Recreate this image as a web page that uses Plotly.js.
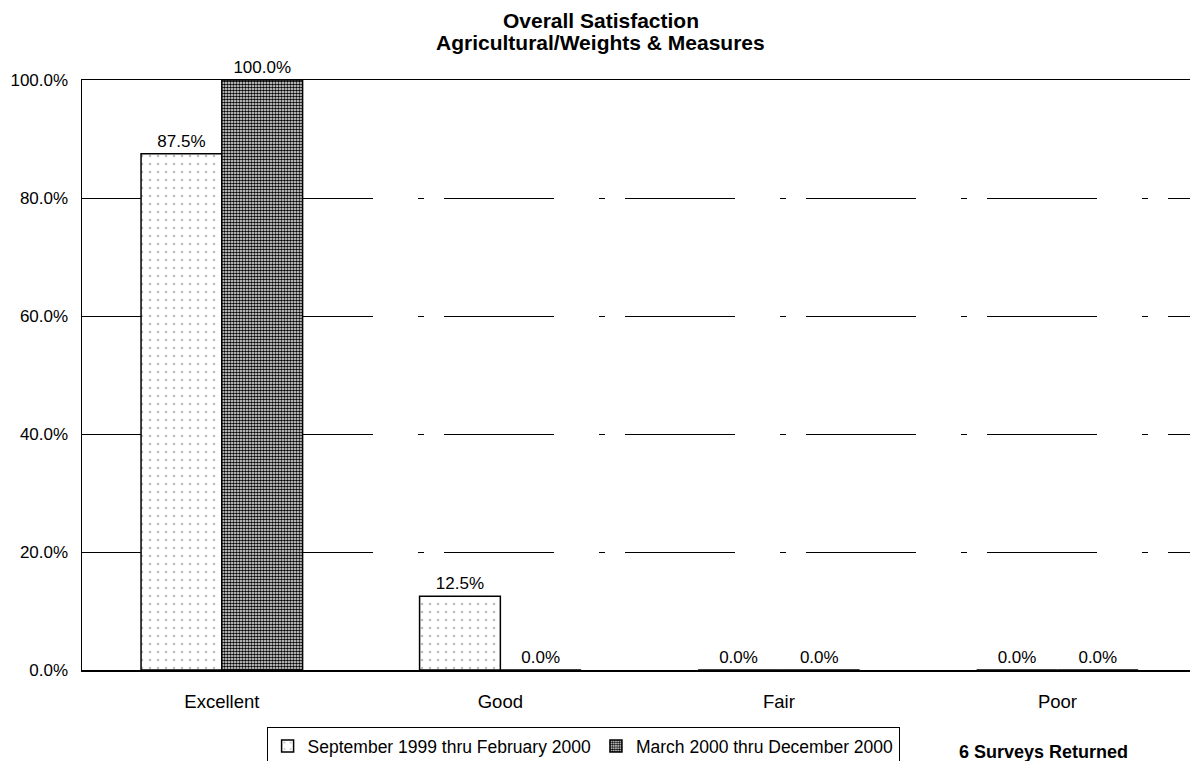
<!DOCTYPE html>
<html>
<head>
<meta charset="utf-8">
<script src="https://cdn.plot.ly/plotly-3.0.1.min.js"></script>
<style>
  html, body { margin: 0; padding: 0; background: #fff; }
  #chart { width: 1192px; height: 761px; }
</style>
</head>
<body>
<div id="chart"></div>
<script>
// Satisfaction ratings by survey period
const categories = ["Excellent", "Good", "Fair", "Poor"];
const seriesNames = ["September 1999 thru February 2000", "March 2000 thru December 2000"];
const periodA = [87.5, 12.5, 0, 0];
const periodB = [100, 0, 0, 0];
const yTickVals = [0, 20, 40, 60, 80, 100];
const yTickText = ["0.0%", "20.0%", "40.0%", "60.0%", "80.0%", "100.0%"];

const font = "Liberation Sans, Arial, sans-serif";
const pct = v => v.toFixed(1) + "%";

const traces = [
  {
    type: "bar",
    name: seriesNames[0],
    x: categories,
    y: periodA,
    text: periodA.map(pct),
    textposition: "outside",
    cliponaxis: false,
    textfont: { family: font, size: 17, color: "#000" },
    marker: {
      color: "#fff",
      line: { color: "#000", width: 1.5 },
      pattern: { shape: ".", fgcolor: "#bdbdbd", bgcolor: "#fff", size: 8, solidity: 0.08 }
    },
    hoverinfo: "skip"
  },
  {
    type: "bar",
    name: seriesNames[1],
    x: categories,
    y: periodB,
    text: periodB.map(pct),
    textposition: "outside",
    cliponaxis: false,
    textfont: { family: font, size: 17, color: "#000" },
    marker: {
      color: "#000",
      line: { color: "#000", width: 1.5 },
      pattern: { shape: ".", fgcolor: "#000", bgcolor: "#fff", size: 3, solidity: 0.6 }
    },
    hoverinfo: "skip"
  }
];

const layout = {
  width: 1192,
  height: 761,
  paper_bgcolor: "#fff",
  plot_bgcolor: "#fff",
  margin: { l: 82, r: 2, t: 80, b: 91, autoexpand: false },
  font: { family: font, size: 17, color: "#000" },
  title: {
    text: "<b>Overall Satisfaction</b>",
    font: { family: font, size: 21, color: "#000" },
    x: 601 / 1192, xanchor: "center",
    y: 1 - 21 / 761, yanchor: "middle"
  },
  barmode: "group",
  bargap: 0.42,
  bargroupgap: 0,
  showlegend: true,
  legend: {
    orientation: "h",
    x: (584 - 82) / 1110, xanchor: "center",
    y: -(727 - 670) / 590, yanchor: "top",
    bordercolor: "#000", borderwidth: 1,
    font: { family: font, size: 17.5, color: "#000" },
    traceorder: "normal",
    itemclick: false, itemdoubleclick: false
  },
  xaxis: {
    type: "category",
    range: [-0.502, 3.476],
    showline: true, linecolor: "#000", linewidth: 1.5,
    mirror: true,
    showgrid: false,
    ticks: "",
    ticklabelstandoff: 14,
    tickfont: { family: font, size: 18.5, color: "#000" },
    fixedrange: true
  },
  yaxis: {
    range: [0, 100],
    tickvals: yTickVals,
    ticktext: yTickText,
    showline: true, linecolor: "#000", linewidth: 1.5,
    ticks: "",
    ticklabelstandoff: 9,
    showgrid: true, gridcolor: "#000", gridwidth: 1,
    griddash: "110px,45px,6px,20px",
    zeroline: false,
    tickfont: { family: font, size: 17, color: "#000" },
    fixedrange: true
  },
  annotations: [
    {
      text: "<b>Agricultural/Weights & Measures</b>",
      xref: "paper", yref: "paper",
      x: (601 - 82) / 1110, xanchor: "center",
      y: 1 + (80 - 43) / 590, yanchor: "middle",
      showarrow: false,
      font: { family: font, size: 21, color: "#000" }
    },
    {
      text: "<b>6 Surveys Returned</b>",
      xref: "paper", yref: "paper",
      x: (1045 - 82) / 1110, xanchor: "center",
      y: -(752 - 670) / 590, yanchor: "middle",
      showarrow: false,
      font: { family: font, size: 18, color: "#000" }
    }
  ]
};

Plotly.newPlot("chart", traces, layout, { displayModeBar: false, staticPlot: true });
</script>
</body>
</html>
